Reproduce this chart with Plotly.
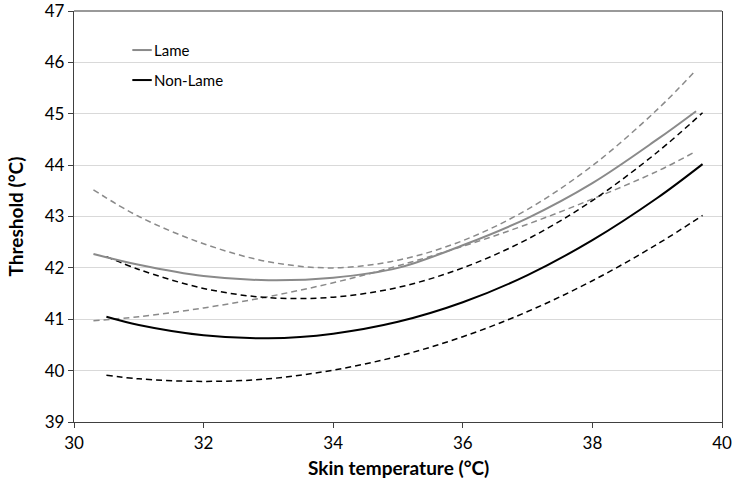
import plotly.graph_objects as go

# Lame (gray)
lame_x = [30.3, 31, 32, 33, 34, 35, 36, 37, 38, 39, 39.6]
lame_mid = [42.27, 42.06, 41.84, 41.76, 41.81, 42.00, 42.44, 42.97, 43.65, 44.50, 45.05]
lame_up = [43.52, 43.00, 42.47, 42.12, 42.00, 42.15, 42.53, 43.14, 43.99, 45.08, 45.85]
lame_lo = [40.97, 41.05, 41.22, 41.44, 41.71, 42.04, 42.42, 42.85, 43.34, 43.88, 44.27]

# Non-Lame (black)
non_x = [30.5, 31, 32, 33, 34, 35, 36, 37, 38, 39, 39.7]
non_mid = [41.05, 40.89, 40.69, 40.63, 40.72, 40.95, 41.33, 41.86, 42.54, 43.36, 44.02]
non_up = [42.22, 41.97, 41.60, 41.42, 41.43, 41.62, 42.00, 42.56, 43.31, 44.25, 45.02]
non_lo = [39.91, 39.84, 39.79, 39.84, 40.01, 40.28, 40.66, 41.15, 41.75, 42.46, 43.02]

x_ticks = [30, 32, 34, 36, 38, 40]
y_ticks = [39, 40, 41, 42, 43, 44, 45, 46, 47]

GRAY = "#8a8a8a"
BLACK = "#000000"
FONT = "Lato"

fig = go.Figure()
for ys in (lame_up, lame_lo):
    fig.add_trace(go.Scatter(x=lame_x, y=ys, mode="lines", showlegend=False,
                             line=dict(color=GRAY, width=1.5, dash="6px,4px", shape="spline"),
                             hoverinfo="skip"))
for ys in (non_up, non_lo):
    fig.add_trace(go.Scatter(x=non_x, y=ys, mode="lines", showlegend=False,
                             line=dict(color=BLACK, width=1.5, dash="6px,4px", shape="spline"),
                             hoverinfo="skip"))
fig.add_trace(go.Scatter(x=lame_x, y=lame_mid, mode="lines", name="Lame", showlegend=False,
                         line=dict(color=GRAY, width=2, shape="spline")))
fig.add_trace(go.Scatter(x=non_x, y=non_mid, mode="lines", name="Non-Lame", showlegend=False,
                         line=dict(color=BLACK, width=2, shape="spline")))

# Manual legend
legend_items = [("Lame", GRAY, 0.905), ("Non-Lame", BLACK, 0.832)]
for label, col, yp in legend_items:
    fig.add_shape(type="line", xref="paper", yref="paper", x0=0.090, x1=0.120, y0=yp, y1=yp,
                  line=dict(color=col, width=2))
    fig.add_annotation(xref="paper", yref="paper", x=0.121, y=yp, text=label, showarrow=False,
                       xanchor="left", yanchor="middle", font=dict(family=FONT, size=15, color="#000"))

# Axis titles
fig.add_annotation(xref="paper", yref="paper", x=0.5, y=0, yshift=-45, text="<b>Skin temperature (°C)</b>",
                   showarrow=False, xanchor="center", yanchor="middle",
                   font=dict(family=FONT, size=19, color="#000"))
fig.add_annotation(xref="paper", yref="paper", x=0, y=0.5, xshift=-59, text="<b>Threshold (°C)</b>",
                   showarrow=False, xanchor="center", yanchor="middle", textangle=-90,
                   font=dict(family=FONT, size=19, color="#000"))

# Top border line (gray)
fig.add_shape(type="line", xref="paper", yref="paper", x0=0, x1=1, y0=1, y1=1,
              line=dict(color="#999999", width=2))

fig.update_layout(
    width=736, height=484,
    margin=dict(l=74, r=14, t=11, b=62, autoexpand=False),
    paper_bgcolor="white", plot_bgcolor="white",
    font=dict(family=FONT, size=17, color="#000"),
    xaxis=dict(range=[30, 40], tickvals=x_ticks, showgrid=False, zeroline=False, automargin=False,
               showline=True, linecolor="#404040", linewidth=1.3, ticklabeloverflow="allow",
               ticks="outside", ticklen=5, tickcolor="#404040",
               tickfont=dict(family=FONT, size=17)),
    yaxis=dict(range=[39, 47], tickvals=y_ticks, showgrid=True, gridcolor="#d9d9d9", gridwidth=1,
               zeroline=False, showline=True, linecolor="#404040", linewidth=1.3, mirror=True,
               automargin=False, ticks="outside", ticklen=5, tickcolor="#404040",
               ticklabeloverflow="allow", tickfont=dict(family=FONT, size=17)),
)

fig.write_html("out.html", config={"displayModeBar": False},
               post_script="document.body.style.margin='0';document.body.style.overflow='hidden';")
